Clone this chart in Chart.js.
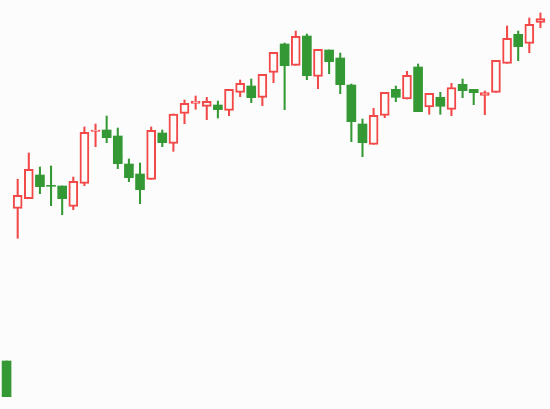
<!DOCTYPE html>
<html>
<head>
<meta charset="utf-8">
<script src="https://cdn.jsdelivr.net/npm/chart.js@4/dist/chart.umd.min.js"></script>
<style>
  html, body { margin: 0; padding: 0; background: #fcfcfc; }
  #wrap { width: 550px; height: 409px; position: relative; }
</style>
</head>
<body>
<div id="wrap"><canvas id="c"></canvas></div>
<script>
const labels = Array.from({length: 49}, (_, i) => String(i + 1));
const opens  = [48, 200.7, 210.3, 234, 223.7, 223, 202.7, 225.7, 277.5, 279, 273, 245, 235, 229.7, 276, 265.7, 295.7, 305.7, 302.7, 304, 298.7, 316.7, 323, 311.7, 336.7, 365, 343.7, 373, 332.7, 359, 351, 324, 285, 264.7, 293.7, 319.7, 310, 342, 302, 311.7, 299.7, 324.7, 319.7, 313.7, 316.7, 345.7, 374.7, 365.7, 386.7];
const closes = [12.3, 213.7, 239.7, 222.3, 222.7, 210.3, 227.7, 276.7, 279, 271.3, 245.3, 231.3, 219.3, 278.7, 266.3, 295, 305.7, 308, 307.7, 299.3, 319.7, 325.7, 311.3, 334.7, 356.7, 343.3, 372.7, 333.3, 359.7, 347.3, 324.3, 287.3, 266.3, 293.7, 316.7, 311.7, 333.7, 297.3, 315.7, 302.7, 321.5, 318.3, 316.3, 316.3, 348.7, 370.7, 362.3, 384.7, 390.3];
const highs  = [48, 229.7, 256, 242, 243, 223, 232, 282, 285, 293, 281, 250, 246, 282, 279, 295, 309, 313, 311.7, 308, 319.7, 329, 330, 334.7, 356.7, 366, 378, 375, 359.7, 359, 356, 325, 290, 300.7, 316.7, 323, 337.7, 345, 315.7, 316.7, 325.7, 330, 319.7, 318, 348.7, 383, 378, 391, 396];
const lows   = [12.3, 170.7, 210.3, 215.3, 203.3, 194.3, 199.3, 223.3, 262.3, 266.3, 240.3, 227.3, 205.3, 229.7, 262.3, 257.7, 285.3, 299.7, 289.3, 291, 293.3, 312.3, 306.3, 303.3, 326.3, 299.3, 343.7, 329.3, 320.3, 335.3, 315.3, 267.3, 252.3, 264.7, 291.3, 307.3, 310, 297.3, 294.7, 294.7, 293.3, 311.3, 304.3, 294.3, 316.7, 345.7, 348.3, 356.3, 381.3];

const UP = 'rgb(242,72,72)';
const DOWN = 'rgb(52,153,52)';
const BG = '#fcfcfc';

const bodies = labels.map((_, i) => [opens[i], closes[i]]);
const wicks = labels.map((_, i) => [lows[i], highs[i]]);
const isUp = i => closes[i] >= opens[i];

new Chart(document.getElementById('c'), {
  type: 'bar',
  data: {
    labels,
    datasets: [
      {
        label: 'body',
        data: bodies,
        order: 0,
        grouped: false,
        barThickness: 9,
        borderSkipped: false,
        backgroundColor: ctx => isUp(ctx.dataIndex) ? BG : DOWN,
        borderColor: ctx => isUp(ctx.dataIndex) ? UP : DOWN,
        borderWidth: ctx => isUp(ctx.dataIndex) ? 2 : 0
      },
      {
        label: 'wick',
        data: wicks,
        order: 1,
        grouped: false,
        barThickness: 1.4,
        borderSkipped: false,
        borderWidth: 0,
        backgroundColor: ctx => isUp(ctx.dataIndex) ? UP : DOWN
      }
    ]
  },
  options: {
    responsive: true,
    maintainAspectRatio: false,
    animation: false,
    layout: { padding: { left: 1, right: 4, top: 0, bottom: 0 } },
    plugins: { legend: { display: false }, tooltip: { enabled: false } },
    scales: {
      x: { display: false, offset: true },
      y: { display: false, min: 0, max: 409 }
    }
  }
});
</script>
</body>
</html>
